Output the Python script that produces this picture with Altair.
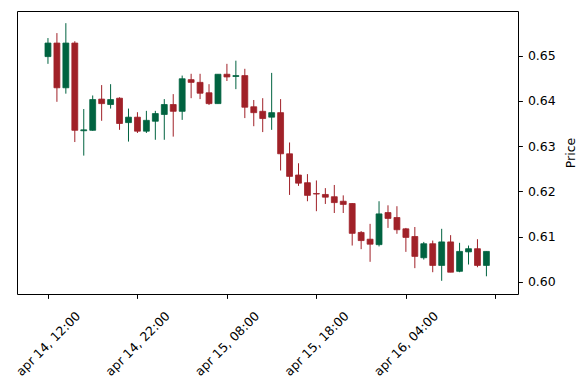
import altair as alt
import pandas as pd

opens = [0.6498, 0.6528, 0.6429, 0.6528, 0.6334, 0.6335, 0.6404, 0.6392, 0.6406, 0.6352,
         0.6364, 0.6333, 0.6355, 0.6370, 0.6392, 0.6377, 0.6447, 0.6441, 0.6418, 0.6394,
         0.6459, 0.6454, 0.6456, 0.6387, 0.6377, 0.6364, 0.6374, 0.6283, 0.6236, 0.6219,
         0.6195, 0.6193, 0.6188, 0.6178, 0.6173, 0.6109, 0.6094, 0.6082, 0.6153, 0.6142,
         0.6117, 0.6100, 0.6053, 0.6084, 0.6036, 0.6088, 0.6023, 0.6066, 0.6073, 0.6036]
highs = [0.6539, 0.6550, 0.6572, 0.6532, 0.6382, 0.6412, 0.6435, 0.6437, 0.6408, 0.6383,
         0.6375, 0.6378, 0.6378, 0.6404, 0.6415, 0.6456, 0.6460, 0.6460, 0.6437, 0.6459,
         0.6482, 0.6489, 0.6471, 0.6402, 0.6406, 0.6462, 0.6404, 0.6308, 0.6262, 0.6238,
         0.6224, 0.6207, 0.6214, 0.6191, 0.6174, 0.6112, 0.6128, 0.6178, 0.6169, 0.6167,
         0.6119, 0.6121, 0.6088, 0.6091, 0.6117, 0.6103, 0.6086, 0.6080, 0.6094, 0.6067]
lows = [0.6482, 0.6398, 0.6416, 0.6309, 0.6279, 0.6334, 0.6356, 0.6383, 0.6336, 0.6310,
        0.6329, 0.6329, 0.6314, 0.6314, 0.6321, 0.6358, 0.6406, 0.6404, 0.6391, 0.6394,
        0.6444, 0.6426, 0.6362, 0.6344, 0.6331, 0.6336, 0.6246, 0.6192, 0.6212, 0.6178,
        0.6156, 0.6172, 0.6152, 0.6152, 0.6080, 0.6072, 0.6044, 0.6078, 0.6119, 0.6106,
        0.6066, 0.6030, 0.6049, 0.6021, 0.6002, 0.6021, 0.6021, 0.6038, 0.6032, 0.6012]
closes = [0.6528, 0.6429, 0.6528, 0.6335, 0.6336, 0.6403, 0.6394, 0.6403, 0.6350, 0.6364,
          0.6333, 0.6357, 0.6372, 0.6392, 0.6377, 0.6449, 0.6441, 0.6417, 0.6394, 0.6459,
          0.6453, 0.6456, 0.6386, 0.6374, 0.6361, 0.6374, 0.6283, 0.6233, 0.6218, 0.6191,
          0.6194, 0.6187, 0.6175, 0.6171, 0.6107, 0.6091, 0.6083, 0.6150, 0.6140, 0.6115,
          0.6098, 0.6056, 0.6084, 0.6036, 0.6088, 0.6021, 0.6067, 0.6073, 0.6036, 0.6067]

tick_positions = [0, 10, 20, 30, 40, 50]
tick_labels = ["apr 14, 12:00", "apr 14, 22:00", "apr 15, 08:00", "apr 15, 18:00", "apr 16, 04:00", ""]
price_ticks = [0.60, 0.61, 0.62, 0.63, 0.64, 0.65]

UP = "#006340"
DOWN = "#a02128"
FONT = "DejaVu Sans"
W, H = 501, 283

df = pd.DataFrame({
    "i": list(range(len(opens))),
    "open": opens, "high": highs, "low": lows, "close": closes,
})
df["dir"] = ["up" if c >= o else "down" for o, c in zip(opens, closes)]

label_map = "{" + ", ".join(f"'{p}': '{t}'" for p, t in zip(tick_positions, tick_labels)) + "}"

xscale = alt.Scale(domain=[-3.46, 52.53], nice=False, zero=False)
yscale = alt.Scale(domain=[0.59728, 0.65989], nice=False, zero=False)
color = alt.Color("dir:N", scale=alt.Scale(domain=["up", "down"], range=[UP, DOWN]), legend=None)

xaxis = alt.Axis(values=tick_positions, labelExpr=f"{label_map}[toString(datum.value)]",
                 labelAngle=315, labelAlign="center", labelBaseline="middle", labelPadding=45,
                 tickSize=4.4, tickColor="black", domainColor="black", labelColor="black",
                 labelFont=FONT, labelFontSize=12.5, grid=False, title=None)
yaxis = alt.Axis(orient="right", values=price_ticks, format=".2f", tickSize=4.4, tickColor="black",
                 domainColor="black", labelColor="black", labelFont=FONT, labelFontSize=12.5,
                 labelPadding=5, grid=False, title="Price", titleFont=FONT, titleFontSize=12.5,
                 titleFontWeight="normal", titleColor="black", titleAngle=270, titlePadding=22)

# spine-only axes for the top and left sides of the frame
top_axis = alt.Axis(orient="top", labels=False, ticks=False, grid=False, title=None, domainColor="black")
left_axis = alt.Axis(orient="left", labels=False, ticks=False, grid=False, title=None, domainColor="black")

base = alt.Chart(df)

wicks = base.mark_rule(strokeWidth=1).encode(
    x=alt.X("i:Q", scale=xscale, axis=xaxis),
    y=alt.Y("low:Q", scale=yscale, axis=yaxis),
    y2="high:Q",
    color=color,
)

bodies = base.transform_calculate(
    x0="datum.i - 0.33", x1="datum.i + 0.33",
    blo="min(datum.open, datum.close)", bhi="max(datum.open, datum.close)",
).mark_bar(strokeWidth=0.8).encode(
    x=alt.X("x0:Q", scale=xscale, axis=top_axis),
    x2="x1:Q",
    y=alt.Y("blo:Q", scale=yscale, axis=left_axis),
    y2="bhi:Q",
    color=color,
    stroke=color,
)

chart = alt.layer(wicks, bodies).resolve_axis(x="independent", y="independent").properties(
    width=W, height=H,
    autosize=alt.AutoSizeParams(type="none"),
    padding={"left": 9, "top": 3, "right": 61, "bottom": 88},
    view=alt.ViewBackground(stroke=None),
    background="white",
)

chart.save("out.html", embed_options={"renderer": "svg", "actions": False})
